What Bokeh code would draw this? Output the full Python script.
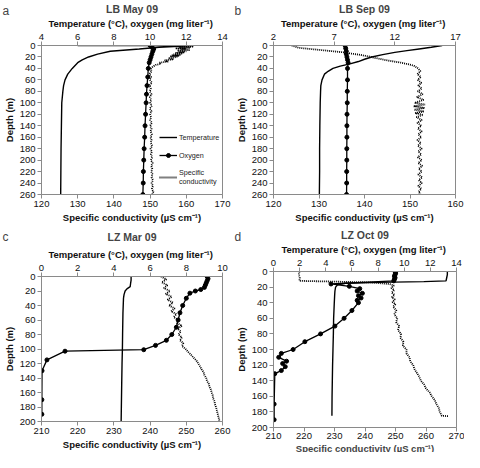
import numpy as np
from bokeh.plotting import figure
from bokeh.models import Range1d, LinearAxis, FixedTicker, Legend, LegendItem, Label, Title
from bokeh.layouts import column, row
from bokeh.embed import file_html
from bokeh.resources import INLINE

# ---------------- data ----------------
a_temp_depth = [0, 0, 3, 6, 10, 15, 20, 25, 30, 40, 50, 60, 70, 80, 100, 140, 180, 220, 260]
a_temp = [6.0, 12.4, 10.5, 9.4, 7.8, 7.1, 6.6, 6.25, 6.0, 5.7, 5.45, 5.3, 5.22, 5.18, 5.12, 5.1, 5.08, 5.07, 5.06]
a_oxy_depth = [0, 3, 6, 10, 15, 20, 25, 30, 40, 55, 70, 85, 100, 120, 140, 160, 180, 200, 220, 240, 260]
a_oxy = [10.0, 10.1, 10.2, 10.15, 10.1, 10.05, 10.0, 9.95, 9.9, 9.87, 9.83, 9.8, 9.78, 9.75, 9.72, 9.7, 9.67, 9.65, 9.63, 9.62, 9.6]
a_cond_depth = [0, 1, 2, 3, 4, 5, 6, 7, 8, 9, 10, 11, 12, 13, 14, 15, 16, 17, 18, 19, 20, 22, 24, 26, 28, 30, 32, 34, 36, 38, 40,
                45, 50, 55, 60, 65, 70, 75, 80, 85, 90, 95, 100, 105, 110, 115, 120, 125, 130, 135, 140, 145, 150, 155, 160,
                165, 170, 175, 180, 185, 190, 195, 200, 205, 210, 215, 220, 225, 230, 235, 240, 245, 250, 255, 260]
a_cond = [155, 160, 162, 158, 161, 157, 160, 158.5, 161, 157.5, 160, 158, 159.5, 157, 159, 156.5, 158.5, 156, 158, 155.5, 157.5,
          155, 156.5, 154, 155, 152.5, 153, 151.5, 151, 150.5, 150.2,
          150.4, 149.8, 150.3, 149.9, 150.5, 149.8, 150.2, 149.9, 150.4, 149.9, 150.3, 150.0, 150.5, 149.9, 150.4, 150.0,
          150.3, 150.0, 150.5, 150.0, 150.4, 150.1, 150.5, 150.1, 150.4, 150.2, 150.6, 150.1, 150.5, 150.2, 150.6, 150.2,
          150.7, 150.3, 150.6, 150.3, 150.7, 150.4, 150.8, 150.4, 150.8, 150.5, 150.9, 150.6]

b_temp_depth = [0, 3, 6, 9, 12, 16, 20, 24, 28, 32, 36, 40, 45, 50, 60, 70, 80, 100, 140, 180, 220, 260]
b_temp = [15.9, 15.0, 14.0, 13.0, 12.0, 11.0, 10.1, 9.5, 9.0, 8.3, 7.5, 6.9, 6.5, 6.2, 6.0, 5.9, 5.88, 5.85, 5.82, 5.8, 5.8, 5.78]
b_oxy_depth = [0, 5, 10, 15, 20, 25, 30, 40, 60, 80, 100, 120, 140, 160, 180, 200, 220, 240, 260]
b_oxy = [7.9, 7.95, 8.0, 8.0, 8.05, 8.1, 8.15, 8.1, 8.1, 8.08, 8.08, 8.06, 8.05, 8.05, 8.04, 8.04, 8.03, 8.03, 8.02]
b_cond_depth = [0, 2, 4, 6, 8, 10, 12, 14, 16, 18, 20, 22, 24, 26, 28, 30, 32, 34, 36, 38, 40,
                45, 50, 55, 60, 65, 70, 75, 80, 85, 90, 95, 100, 103, 106, 109, 112, 115, 118, 121, 125, 130, 135,
                140, 145, 150, 155, 160, 165, 170, 175, 180, 185, 190, 195, 200, 205, 210, 215, 220, 225, 230, 235,
                240, 245, 250, 255, 260]
b_cond = [124.0, 124.8, 125.5, 128, 130.5, 133, 135.5, 137, 138.8, 140.2, 141.5, 142.5, 143.8, 145, 146.5, 148, 149.2,
          150.3, 151, 151.4, 151.8,
          152.3, 151.6, 152.4, 151.7, 152.5, 151.8, 152.6, 151.7, 152.8, 151.5, 153.0, 151.0, 153.3, 150.8, 153.2, 150.9,
          153.1, 151.1, 152.9, 151.4, 152.6, 151.6, 152.5, 151.7, 152.6, 151.8, 152.5, 151.6, 152.4, 151.7, 152.6, 151.8,
          152.5, 151.7, 152.6, 151.8, 152.7, 151.9, 152.6, 151.8, 152.7, 151.9, 152.6, 151.8, 152.5, 151.9, 152.3]

c_temp_depth = [0, 5, 10, 14, 17, 20, 25, 30, 50, 80, 100, 120, 150, 200]
c_temp = [4.95, 4.95, 4.92, 4.9, 4.72, 4.62, 4.56, 4.53, 4.5, 4.48, 4.47, 4.45, 4.43, 4.4]
c_oxy_depth = [0, 3, 6, 9, 12, 15, 18, 20, 23, 30, 40, 50, 60, 70, 80, 88, 95, 101, 103, 115, 130, 170, 190]
c_oxy = [9.15, 9.2, 9.15, 9.1, 9.05, 9.0, 8.8, 8.5, 8.2, 8.0, 7.8, 7.65, 7.55, 7.45, 7.2, 6.9, 6.3, 5.65, 1.3, 0.3, 0.03, 0.02, 0.02]
c_cond_depth = list(range(0, 101, 4)) + list(range(104, 201, 4))
c_cond = [243.0, 244.5, 243.2, 244.8, 243.8, 245.5, 244.3, 246.0, 244.8, 246.3, 245.2, 246.8, 245.8, 247.3, 246.5, 247.8,
          247.4, 248.8, 247.6, 248.5, 247.8, 248.8, 248.2, 249.2, 248.8, 249.8,
          250.5, 251.3, 252.0, 252.8, 253.3, 253.8, 254.2, 254.8, 255.0, 255.5, 255.7, 256.2, 256.4, 256.8, 257.0,
          257.3, 257.4, 257.8, 257.9, 258.2, 258.4, 258.6, 258.8, 259.0, 259.2]

d_temp_depth = [0, 4, 8, 12, 13, 14, 15, 17, 20, 25, 30, 40, 60, 80, 100, 120, 140, 160, 185]
d_temp = [13.3, 13.3, 13.25, 13.2, 11.5, 8.0, 5.5, 4.9, 4.75, 4.7, 4.68, 4.65, 4.6, 4.58, 4.55, 4.52, 4.5, 4.48, 4.47]
d_oxy_depth = [0, 2, 4, 6, 8, 10, 12, 16, 19, 22, 25, 28, 31, 34, 37, 40, 50, 60, 70, 80, 90, 100, 105, 110, 115, 118,
               122, 127, 131, 170, 190]
d_oxy = [9.3, 9.35, 9.3, 9.25, 9.3, 9.25, 9.2, 4.4, 5.8, 6.6, 6.4, 6.8, 6.5, 6.7, 6.4, 6.5, 6.0, 5.4, 4.7, 3.6, 2.4, 1.5,
         0.6, 0.4, 1.0, 0.7, 0.9, 0.6, 0.1, 0.05, 0.05]
d_cond_depth = [0, 4, 8, 12, 13, 14, 16, 18, 21, 24, 27, 30, 33, 36, 39, 42, 45, 50, 55, 60, 65, 70, 75, 80, 85, 90, 95,
                100, 105, 110, 115, 120, 125, 130, 135, 140, 145, 150, 155, 160, 165, 170, 175, 180, 183, 185, 185.5]
d_cond = [218.5, 218.3, 218.6, 218.5, 230, 242, 248, 249.5, 248.6, 249.6, 248.7, 249.7, 248.8, 249.8, 249.0, 250.0,
          249.2, 250.3, 249.6, 250.6, 250.2, 251.2, 250.8, 251.8, 251.6, 252.6, 252.4, 253.6, 253.6, 254.6, 254.8,
          255.8, 256.2, 257.0, 257.8, 258.3, 259.4, 260.0, 261.2, 261.9, 262.9, 263.4, 264.2, 264.5, 264.9, 265.2, 267.5]

# ---------------- styling ----------------
FONT = "Liberation Sans"
GRAY = "#8a8a8a"
SUB = "Temperature (\u00b0C),  oxygen (mg liter\u207b\u00b9)"
COND_LABEL = "Specific conductivity (\u00b5S cm\u207b\u00b9)"


def style_axis(ax, ticks, label_standoff=2, axis_label_standoff=2):
    ax.ticker = FixedTicker(ticks=ticks)
    ax.axis_line_color = GRAY
    ax.major_tick_line_color = GRAY
    ax.minor_tick_line_color = None
    ax.major_tick_out = 4
    ax.major_tick_in = 0
    ax.major_label_text_font = FONT
    ax.major_label_text_font_size = "9.5px"
    ax.major_label_text_color = "#111111"
    ax.major_label_standoff = label_standoff
    ax.axis_label_text_font = FONT
    ax.axis_label_text_font_size = "9.5px"
    ax.axis_label_text_font_style = "bold"
    ax.axis_label_text_color = "#111111"
    ax.axis_label_standoff = axis_label_standoff


def panel(letter, title, trng, tticks, crng, cticks, dmax, dticks,
          td, tv, od, ov, cd, cv, borders, title_standoff=0, legend=False, title_below=None):
    p = figure(width=232, height=226, output_backend="svg", toolbar_location=None,
               x_range=Range1d(*trng), y_range=Range1d(dmax, 0),
               x_axis_location=None, y_axis_location="left")
    p.frame_align = False
    p.extra_x_ranges = {"cond": Range1d(*crng)}
    p.min_border_left, p.min_border_right, p.min_border_top, p.min_border_bottom = borders
    p.grid.visible = False
    p.outline_line_color = GRAY
    p.background_fill_color = "white"
    p.border_fill_color = "white"

    p.title.text = title
    p.title.align = "center"
    p.title.text_font = FONT
    p.title.text_font_size = "10.5px"
    p.title.text_font_style = "bold"
    p.title.standoff = title_standoff

    top = LinearAxis(axis_label=SUB)
    style_axis(top, tticks)
    p.add_layout(top, "above")
    if title_below is None:
        bottom = LinearAxis(x_range_name="cond", axis_label=COND_LABEL)
        style_axis(bottom, cticks)
        p.add_layout(bottom, "below")
    else:
        bottom = LinearAxis(x_range_name="cond")
        style_axis(bottom, cticks, label_standoff=1)
        p.add_layout(bottom, "below")
        p.add_layout(Title(text=COND_LABEL, align="center", text_font=FONT, text_font_size="9.5px",
                           text_font_style="bold", standoff=title_below), "below")
    style_axis(p.yaxis[0], dticks)
    p.yaxis[0].axis_label = "Depth (m)"

    r_c = p.line(cv, cd, x_range_name="cond", line_color="black", line_width=1.8, line_dash="1 1")
    r_t = p.line(tv, td, line_color="black", line_width=1.4)
    r_o = p.line(ov, od, line_color="black", line_width=1.3)
    r_om = p.scatter(ov, od, size=4, fill_color="black", line_color="black")

    # panel letter: kept in the (empty) right side panel so that it is not clipped and takes no height
    p.add_layout(Label(x=2, y=10, x_units="canvas", y_units="canvas", text=letter,
                       text_font=FONT, text_font_size="12px", text_baseline="alphabetic"), "right")

    if legend:
        leg = Legend(items=[LegendItem(label="Temperature", renderers=[r_t]),
                            LegendItem(label="Oxygen", renderers=[r_o, r_om]),
                            LegendItem(label="Specific\nconductivity", renderers=[r_c])],
                     location=(118, 8), background_fill_alpha=0, border_line_color=None,
                     label_text_font=FONT, label_text_font_size="7.2px", label_text_color="#222222",
                     glyph_width=18, glyph_height=10, label_standoff=2, spacing=8, padding=0, margin=0)
        p.add_layout(leg, "center")
    return p


pa = panel("a", "LB May 09", (4, 14), [4, 6, 8, 10, 12, 14], (120, 170), [120, 130, 140, 150, 160, 170],
           260, list(range(0, 261, 20)), a_temp_depth, a_temp, a_oxy_depth, a_oxy, a_cond_depth, a_cond,
           (36, 10, 38, 32), legend=True)
pb = panel("b", "LB Sep 09", (2, 17), [2, 7, 12, 17], (120, 160), [120, 130, 140, 150, 160],
           260, list(range(0, 261, 20)), b_temp_depth, b_temp, b_oxy_depth, b_oxy, b_cond_depth, b_cond,
           (39, 9, 37, 32))
pc = panel("c", "LZ Mar 09", (0, 10), [0, 2, 4, 6, 8, 10], (210, 260), [210, 220, 230, 240, 250, 260],
           200, list(range(0, 201, 20)), c_temp_depth, c_temp, c_oxy_depth, c_oxy, c_cond_depth, c_cond,
           (36, 10, 43, 0), title_standoff=5)
pd_ = panel("d", "LZ Oct 09", (0, 14), [0, 2, 4, 6, 8, 10, 12, 14], (210, 270), [210, 220, 230, 240, 250, 260, 270],
            200, list(range(0, 201, 20)), d_temp_depth, d_temp, d_oxy_depth, d_oxy, d_cond_depth, d_cond,
            (39, 8, 37, 0), title_standoff=0, title_below=-2)

layout = column(row(pa, pb), row(pc, pd_))
open("out.html", "w").write(file_html(layout, INLINE))
